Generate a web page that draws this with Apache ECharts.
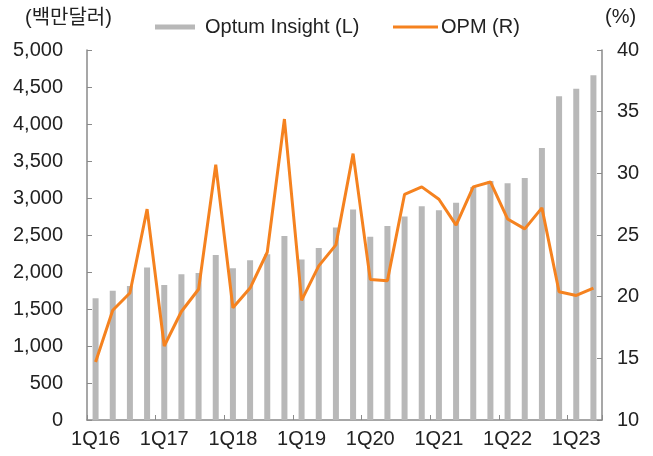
<!DOCTYPE html>
<html>
<head>
<meta charset="utf-8">
<script src="https://cdn.jsdelivr.net/npm/echarts@6/dist/echarts.min.js"></script>
<style>
  html, body { margin: 0; padding: 0; background: #fff; }
  #chart { width: 653px; height: 456px; }
</style>
</head>
<body>
<div id="chart"></div>
<script>
const categories = ['1Q16','2Q16','3Q16','4Q16','1Q17','2Q17','3Q17','4Q17','1Q18','2Q18','3Q18','4Q18','1Q19','2Q19','3Q19','4Q19','1Q20','2Q20','3Q20','4Q20','1Q21','2Q21','3Q21','4Q21','1Q22','2Q22','3Q22','4Q22','1Q23','2Q23'];
const optumInsight = [1645, 1745, 1810, 2060, 1825, 1970, 1985, 2230, 2050, 2160, 2240, 2485, 2170, 2325, 2600, 2845, 2475, 2620, 2750, 2890, 2835, 2935, 3150, 3230, 3200, 3270, 3675, 4375, 4475, 4660];
const opm = [14.7, 18.9, 20.3, 27.1, 16.0, 18.8, 20.6, 30.7, 19.1, 20.7, 23.6, 34.4, 19.7, 22.5, 24.2, 31.6, 21.4, 21.3, 28.3, 28.9, 27.9, 25.8, 28.9, 29.3, 26.3, 25.5, 27.2, 20.4, 20.1, 20.7];
const leftUnit = '(백만달러)';
const rightUnit = '(%)';

const FONT = "'Liberation Sans', 'Noto Sans CJK KR', sans-serif";
const TXT = '#222';
const AXIS = '#8a8a8a';

const chart = echarts.init(document.getElementById('chart'), null, { renderer: 'canvas' });
chart.setOption({
  animation: false,
  textStyle: { fontFamily: FONT },
  grid: { left: 87, right: 51, top: 50, bottom: 36 },
  legend: [
    {
      data: ['Optum Insight (L)'],
      left: 150, top: 12,
      itemWidth: 40, itemHeight: 5,
      icon: 'rect',
      textStyle: { fontFamily: FONT, fontSize: 20, color: TXT, padding: [0, 0, 0, 5] }
    },
    {
      data: [{ name: 'OPM (R)', icon: 'rect' }],
      left: 388, top: 12,
      itemWidth: 45, itemHeight: 3,
      textStyle: { fontFamily: FONT, fontSize: 20, color: TXT, padding: [0, 0, 0, -2] }
    }
  ],
  graphic: [
    { type: 'text', left: 25, top: 8, style: { text: leftUnit, font: "20px " + FONT, fill: TXT } },
    { type: 'text', left: 605, top: 7, style: { text: rightUnit, font: "20px " + FONT, fill: TXT } }
  ],
  xAxis: {
    type: 'category',
    data: categories,
    boundaryGap: true,
    axisLine: { lineStyle: { color: AXIS, width: 1.5 } },
    axisTick: { show: true, inside: true, length: 5, interval: 3, lineStyle: { color: AXIS } },
    axisLabel: { interval: 3, fontSize: 20, color: TXT, fontFamily: FONT, margin: 9 }
  },
  yAxis: [
    {
      type: 'value', min: 0, max: 5000, interval: 500,
      axisLine: { show: true, lineStyle: { color: AXIS, width: 1.5 } },
      axisTick: { show: true, inside: true, length: 5, lineStyle: { color: AXIS } },
      splitLine: { show: false },
      axisLabel: {
        fontSize: 20, color: TXT, fontFamily: FONT, margin: 24,
        formatter: v => v.toLocaleString('en-US')
      }
    },
    {
      type: 'value', min: 10, max: 40, interval: 5,
      position: 'right',
      axisLine: { show: true, lineStyle: { color: AXIS, width: 1.5 } },
      axisTick: { show: true, inside: true, length: 5, lineStyle: { color: AXIS } },
      splitLine: { show: false },
      axisLabel: { fontSize: 20, color: TXT, fontFamily: FONT, margin: 15 }
    }
  ],
  series: [
    {
      name: 'Optum Insight (L)',
      type: 'bar',
      yAxisIndex: 0,
      data: optumInsight,
      barWidth: 6,
      itemStyle: { color: '#b8b8b8' }
    },
    {
      name: 'OPM (R)',
      type: 'line',
      yAxisIndex: 1,
      data: opm,
      symbol: 'none',
      lineStyle: { color: '#f5821f', width: 3 },
      itemStyle: { color: '#f5821f' }
    }
  ]
});
</script>
</body>
</html>
